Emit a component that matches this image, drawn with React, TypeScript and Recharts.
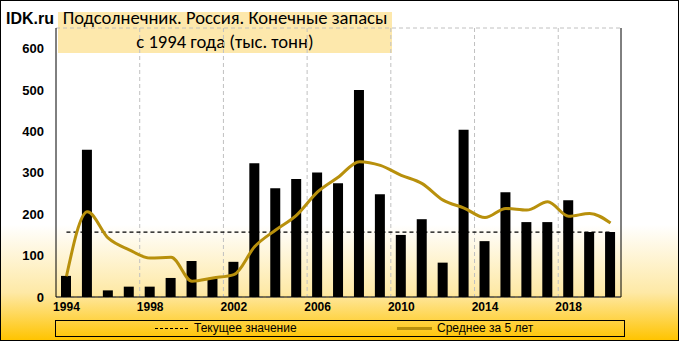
import React from "react";
import {
  ComposedChart,
  Bar,
  Line,
  XAxis,
  YAxis,
  CartesianGrid,
  ReferenceLine,
} from "recharts";

// конечные запасы подсолнечника, тыс. тонн
const years = [
  "1994", "1995", "1996", "1997", "1998", "1999", "2000", "2001", "2002",
  "2003", "2004", "2005", "2006", "2007", "2008", "2009", "2010", "2011",
  "2012", "2013", "2014", "2015", "2016", "2017", "2018", "2019", "2020",
];
const stocks = [
  51, 356, 16, 25, 25, 46, 87, 45, 85,
  323, 263, 285, 301, 275, 500, 248, 150, 188,
  83, 404, 135, 253, 181, 181, 234, 157, 157,
];
const avg5 = [
  50, 206, 142, 114, 94, 96, 38, 46, 54,
  122, 162, 198, 254, 290, 327, 318, 294, 274,
  234, 215, 192, 214, 210, 230, 195, 202, 179,
];
const currentValue = 157;
const yTicks = [0, 100, 200, 300, 400, 500, 600];

const GOLD = "#B8900C";
const FONT = "Arial, 'Liberation Sans', sans-serif";

const data = years.map((y, i) => ({ year: y, stock: stocks[i], avg: avg5[i] }));

// dashed verticals sit on category boundaries every 4 years (like Excel)
const vGrid = ({ offset }: any) => {
  const out: number[] = [];
  const step = offset.width / years.length;
  for (let i = 4; i < years.length; i += 4) out.push(offset.left + i * step);
  return out;
};

export default function App() {
  return (
    <div
      style={{
        position: "relative",
        width: 679,
        height: 341,
        boxSizing: "border-box",
        border: "1px solid #000",
        background: "linear-gradient(to bottom, #ffffff 0%, #ffffff 66%, #fee9a6 86%, #ffc400 100%)",
        fontFamily: FONT,
        overflow: "hidden",
      }}
    >
      <style>{"body{margin:0}"}</style>
      <div
        style={{
          position: "absolute",
          left: 57,
          top: 11,
          width: 334,
          height: 41,
          background: "#fde8ac",
        }}
      />
      <div
        style={{
          position: "absolute",
          left: 57,
          top: 5,
          width: 334,
          textAlign: "center",
          fontSize: 18.6,
          lineHeight: "24px",
          color: "#000",
          fontFamily: "Calibri, Carlito, Arial, sans-serif",
          whiteSpace: "nowrap",
        }}
      >
        Подсолнечник. Россия. Конечные запасы
        <br />
        с 1994 года (тыс. тонн)
      </div>
      <div
        style={{
          position: "absolute",
          left: 5,
          top: 9,
          fontSize: 16,
          fontWeight: "bold",
          color: "#000",
        }}
      >
        IDK.ru
      </div>
      <div style={{ position: "absolute", left: -1, top: -1 }}>
        <ComposedChart
          width={679}
          height={341}
          data={data}
          margin={{ top: 28, right: 0, left: 0, bottom: 24 }}
          barSize={10}
        >
          <CartesianGrid
            stroke="#c0c0c0"
            strokeDasharray="4 3"
            verticalCoordinatesGenerator={vGrid}
          />
          <XAxis
            dataKey="year"
            interval={3}
            height={20}
            tickLine={false}
            tickSize={0}
            tickMargin={5}
            axisLine={{ stroke: "#000" }}
            tick={{ fill: "#000", fontSize: 12, fontWeight: "bold", fontFamily: FONT }}
          />
          <XAxis
            xAxisId="top"
            dataKey="year"
            orientation="top"
            height={0}
            tick={false}
            tickLine={false}
            axisLine={{ stroke: "#000" }}
          />
          <YAxis
            yAxisId="left"
            width={56}
            domain={[0, 650]}
            ticks={yTicks}
            tickLine={false}
            tickSize={0}
            tickMargin={12}
            axisLine={{ stroke: "#000" }}
            tick={{ fill: "#000", fontSize: 13, fontWeight: "bold", fontFamily: FONT }}
          />
          <YAxis
            yAxisId="right"
            orientation="right"
            width={58}
            domain={[0, 650]}
            ticks={yTicks}
            tickLine={false}
            tickSize={0}
            tickMargin={12}
            axisLine={{ stroke: "#000" }}
            tick={{ fill: "#000", fontSize: 13, fontWeight: "bold", fontFamily: FONT, textAnchor: "start" }}
          />
          <Bar yAxisId="left" dataKey="stock" fill="#000" isAnimationActive={false} />
          <ReferenceLine
            yAxisId="left"
            segment={[
              { x: years[0], y: currentValue },
              { x: years[years.length - 1], y: currentValue },
            ]}
            stroke="#000"
            strokeWidth={1.3}
            strokeDasharray="4 3"
          />
          <Line
            yAxisId="left"
            dataKey="avg"
            type="monotone"
            stroke={GOLD}
            strokeWidth={3}
            dot={false}
            isAnimationActive={false}
          />
        </ComposedChart>
      </div>
      <div
        style={{
          position: "absolute",
          left: 54,
          top: 319,
          width: 568,
          height: 15,
          border: "1px solid #000",
          fontSize: 12,
          color: "#000",
        }}
      >
        <div style={{ position: "absolute", left: 99, top: 7, width: 33, borderTop: "1.5px dashed #000" }} />
        <div style={{ position: "absolute", left: 138, top: 0, lineHeight: "15px" }}>Текущее значение</div>
        <div style={{ position: "absolute", left: 341, top: 6, width: 35, height: 3, background: GOLD }} />
        <div style={{ position: "absolute", left: 381, top: 0, lineHeight: "15px" }}>Среднее за 5 лет</div>
      </div>
    </div>
  );
}
